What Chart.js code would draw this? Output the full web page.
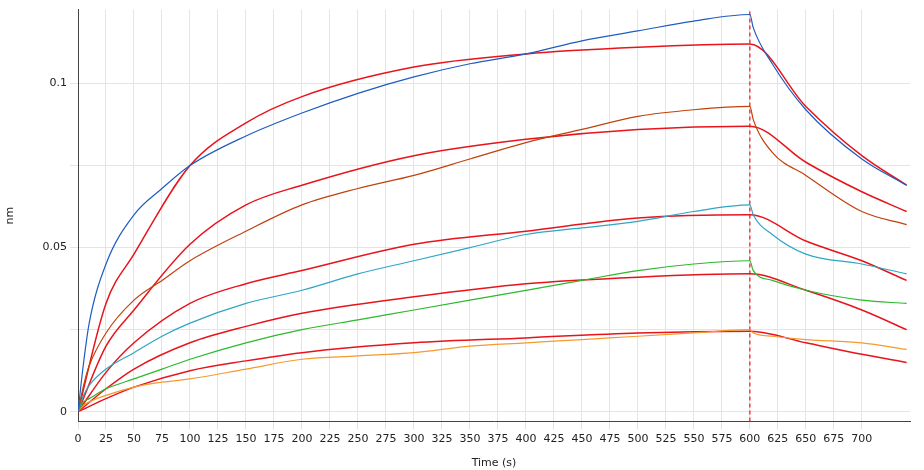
<!DOCTYPE html>
<html><head><meta charset="utf-8">
<script src="https://cdn.jsdelivr.net/npm/chart.js@4"></script>
<style>body{margin:0;background:#fff}#wrap{width:924px;height:470px}</style>
</head><body><div id="wrap"><canvas id="c"></canvas></div>
<script>
// observed traces (time s, nm)
const tObs = [0, 5, 10, 25, 50, 75, 100, 150, 200, 250, 300, 350, 400, 450, 500, 550, 600, 603, 620, 650, 700, 740];
const blueObs   = [0, 0.015, 0.027, 0.045, 0.060, 0.068, 0.075, 0.084, 0.091, 0.097, 0.102, 0.106, 0.109, 0.113, 0.116, 0.119, 0.121, 0.117, 0.106, 0.092, 0.077, 0.069];
const rustObs   = [0, 0.008, 0.014, 0.024, 0.034, 0.040, 0.046, 0.055, 0.063, 0.068, 0.072, 0.077, 0.082, 0.086, 0.090, 0.092, 0.093, 0.089, 0.079, 0.072, 0.061, 0.057];
const cyanObs   = [0, 0.005, 0.008, 0.013, 0.018, 0.023, 0.027, 0.033, 0.037, 0.042, 0.046, 0.050, 0.054, 0.056, 0.058, 0.061, 0.063, 0.060, 0.054, 0.048, 0.045, 0.042];
const greenObs  = [0, 0.003, 0.004, 0.007, 0.010, 0.013, 0.016, 0.021, 0.025, 0.028, 0.031, 0.034, 0.037, 0.040, 0.043, 0.045, 0.046, 0.043, 0.040, 0.037, 0.034, 0.033];
const orangeObs = [0, 0.002, 0.003, 0.005, 0.0075, 0.009, 0.010, 0.013, 0.016, 0.017, 0.018, 0.020, 0.021, 0.022, 0.023, 0.024, 0.025, 0.024, 0.023, 0.022, 0.021, 0.019];
// fitted curves
const tFit = [0, 25, 50, 100, 150, 200, 300, 400, 500, 600, 650, 700, 740];
const blueFit   = [0, 0.033, 0.048, 0.075, 0.088, 0.096, 0.105, 0.109, 0.111, 0.112, 0.093, 0.078, 0.069];
const rustFit   = [0, 0.020, 0.031, 0.051, 0.063, 0.069, 0.078, 0.083, 0.086, 0.087, 0.076, 0.067, 0.061];
const cyanFit   = [0, 0.012, 0.021, 0.033, 0.039, 0.043, 0.051, 0.055, 0.059, 0.060, 0.052, 0.046, 0.040];
const greenFit  = [0, 0.007, 0.013, 0.021, 0.026, 0.030, 0.035, 0.039, 0.041, 0.042, 0.037, 0.031, 0.025];
const orangeFit = [0, 0.004, 0.0075, 0.0125, 0.0155, 0.018, 0.021, 0.0225, 0.024, 0.0245, 0.021, 0.0175, 0.015];
const marker = [[600, -0.003], [600, 0.125]];
const xTicks = [0, 25, 50, 75, 100, 125, 150, 175, 200, 225, 250, 275, 300, 325, 350, 375, 400, 425, 450, 475, 500, 525, 550, 575, 600, 625, 650, 675, 700];
const yTicks = [0, 0.025, 0.05, 0.075, 0.1];

const pts = (xs, ys) => xs.map((x, i) => ({ x, y: ys[i] }));
const obs = (ys, color) => ({ data: pts(tObs, ys), borderColor: color, borderWidth: 1.2, pointRadius: 0, cubicInterpolationMode: 'monotone' });
const fit = ys => ({ data: pts(tFit, ys), borderColor: '#e8141c', borderWidth: 1.5, pointRadius: 0, cubicInterpolationMode: 'monotone' });
const font = { size: 11, family: 'DejaVu Sans' };

new Chart(document.getElementById('c'), {
  type: 'line',
  data: { datasets: [
    obs(blueObs, '#1f5cc0'), obs(rustObs, '#c2410c'), obs(cyanObs, '#2ea6c4'), obs(greenObs, '#2db82d'), obs(orangeObs, '#f59a2e'),
    fit(blueFit), fit(rustFit), fit(cyanFit), fit(greenFit), fit(orangeFit),
    { data: marker.map(([x, y]) => ({ x, y })), borderColor: '#e8141c', borderWidth: 1.2, borderDash: [4, 3], pointRadius: 0 }
  ] },
  options: {
    responsive: true, maintainAspectRatio: false, animation: false,
    layout: { padding: { top: -8, right: 14, bottom: 0, left: 0 } },
    plugins: { legend: { display: false }, tooltip: { enabled: false } },
    scales: {
      x: { type: 'linear', min: 0, max: 743,
        afterBuildTicks: s => { s.ticks = xTicks.map(value => ({ value })); },
        ticks: { color: '#222', font, maxRotation: 0, autoSkip: false },
        grid: { color: '#e4e4e4' }, border: { color: '#444' },
        title: { display: true, text: 'Time (s)', color: '#222', font, padding: { top: 8, bottom: 0 } } },
      y: { min: -0.003, max: 0.1225,
        afterBuildTicks: s => { s.ticks = yTicks.map(value => ({ value })); },
        ticks: { color: '#222', font,
          callback: v => { const r = Math.round(v * 1000); return r === 0 ? '0' : r === 50 ? '0.05' : r === 100 ? '0.1' : ''; } },
        grid: { color: '#e4e4e4' }, border: { color: '#444' },
        afterFit: s => { s.width = 78; },
        title: { display: true, text: 'nm', color: '#222', font } }
    }
  }
});
</script></body></html>
